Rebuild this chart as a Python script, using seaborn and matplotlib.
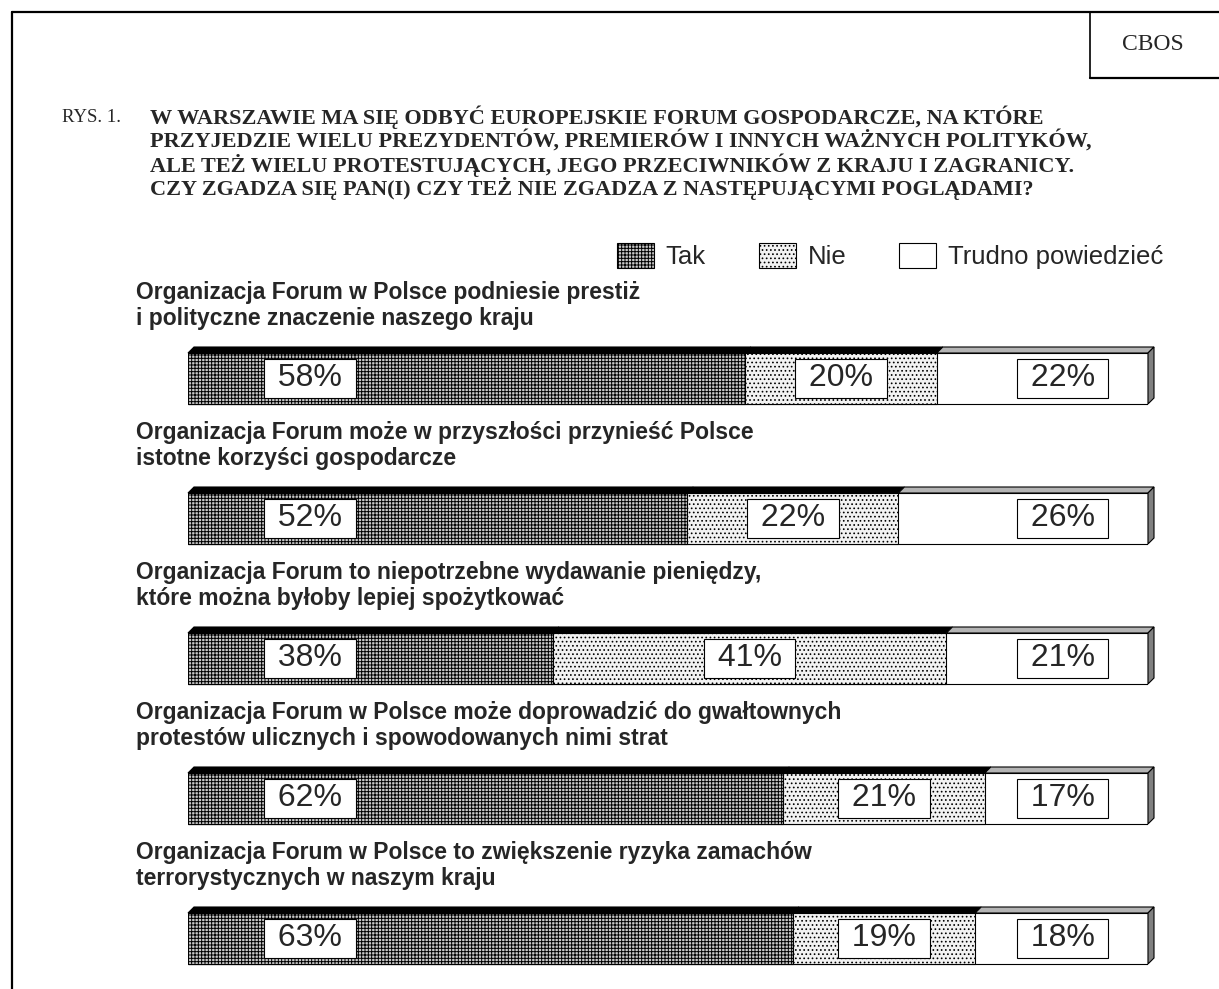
import numpy as np
import pandas as pd
import matplotlib
matplotlib.use("Agg")
import matplotlib.pyplot as plt
import seaborn as sns
from matplotlib.patches import Polygon, Patch
from matplotlib.lines import Line2D

# ---------------- data ----------------
statements = [
    "Organizacja Forum w Polsce podniesie prestiż\ni polityczne znaczenie naszego kraju",
    "Organizacja Forum może w przyszłości przynieść Polsce\nistotne korzyści gospodarcze",
    "Organizacja Forum to niepotrzebne wydawanie pieniędzy,\nktóre można byłoby lepiej spożytkować",
    "Organizacja Forum w Polsce może doprowadzić do gwałtownych\nprotestów ulicznych i spowodowanych nimi strat",
    "Organizacja Forum w Polsce to zwiększenie ryzyka zamachów\nterrorystycznych w naszym kraju",
]
tak = [58, 52, 38, 62, 63]
nie = [20, 22, 41, 21, 19]
trudno = [22, 26, 21, 17, 18]
series_names = ["Tak", "Nie", "Trudno powiedzieć"]

fig_label = "RYS. 1."
title_lines = [
    "W WARSZAWIE MA SIĘ ODBYĆ EUROPEJSKIE FORUM GOSPODARCZE, NA KTÓRE",
    "PRZYJEDZIE WIELU PREZYDENTÓW, PREMIERÓW I INNYCH WAŻNYCH POLITYKÓW,",
    "ALE TEŻ WIELU PROTESTUJĄCYCH, JEGO PRZECIWNIKÓW Z KRAJU I ZAGRANICY.",
    "CZY ZGADZA SIĘ PAN(I) CZY TEŻ NIE ZGADZA Z NASTĘPUJĄCYMI POGLĄDAMI?",
]
source = "CBOS"

# ---------------- style ----------------
sns.set_theme(style="white")
plt.rcParams["font.family"] = ["Liberation Sans", "DejaVu Sans"]
plt.rcParams["hatch.linewidth"] = 0.7

W, H = 1219, 989
fig = plt.figure(figsize=(W / 100, H / 100), dpi=100)
fig.patch.set_facecolor("white")


def fx(p):
    return p / W


def fy(p):
    return 1 - p / H


# frame lines
fig.add_artist(Line2D([fx(12), fx(12)], [fy(12), fy(H)], color="black", lw=1.6))
fig.add_artist(Line2D([fx(12), 1], [fy(12), fy(12)], color="black", lw=1.6))
fig.add_artist(Line2D([fx(1090), fx(1090)], [fy(12), fy(78)], color="black", lw=1.2))
fig.add_artist(Line2D([fx(1090), 1], [fy(78), fy(78)], color="black", lw=1.6))
fig.text(fx(1153), fy(44), source, family="Liberation Serif", fontsize=17,
         ha="center", va="center")

# title
title_y = [117, 141, 165, 189]
fig.text(fx(62), fy(title_y[0]), fig_label, family="Liberation Serif", fontsize=13.5,
         ha="left", va="center")
for ty, line in zip(title_y, title_lines):
    fig.text(fx(150), fy(ty), line, family="Liberation Serif", fontsize=16,
             fontweight="bold", ha="left", va="center")

# ---------------- bars ----------------
top_px, bot_px = 300, H
row_px = 140.0
c0 = 378.5
ax = fig.add_axes([fx(188), 1 - bot_px / H, fx(1148) - fx(188), (bot_px - top_px) / H])

cats = [f"s{i}" for i in range(len(tak))]
tak_a = np.array(tak)
nie_end = tak_a + np.array(nie)
tr_end = nie_end + np.array(trudno)

bar_w = 51 / row_px
styles = [
    dict(face="#c8c8c8", hatch="+++++"),   # Tak
    dict(face="#f2f2f2", hatch="...."),    # Nie
    dict(face="white", hatch=None),        # Trudno
]

layers = [(tr_end, styles[2]), (nie_end, styles[1]), (tak_a, styles[0])]
for ends, st in layers:
    n0 = len(ax.patches)
    sns.barplot(x=list(ends), y=cats, orient="h", width=bar_w, ax=ax,
                color="white", saturation=1, edgecolor="black", linewidth=0.8)
    for p in ax.patches[n0:]:
        p.set_facecolor(st["face"])
        p.set_edgecolor("black")
        if st["hatch"]:
            p.set_hatch(st["hatch"])

ax.set_xlim(0, 100)
ax.set_ylim((bot_px - c0) / row_px, (top_px - c0) / row_px)
ax.axis("off")

# 3D faces
depth_x = 6 / 9.6
depth_y = 6 / row_px
starts = [np.zeros(len(tak)), tak_a, nie_end]
ends_all = [tak_a, nie_end, tr_end]
top_cols = ["black", "black", "#b4b4b4"]
for i in range(len(tak)):
    yt = i - bar_w / 2
    yb = i + bar_w / 2
    for s, e, col in zip(starts, ends_all, top_cols):
        x0, x1 = s[i], e[i]
        poly = Polygon([(x0, yt), (x1, yt), (x1 + depth_x, yt - depth_y),
                        (x0 + depth_x, yt - depth_y)], closed=True,
                       facecolor=col, edgecolor="black", lw=0.8, clip_on=False)
        ax.add_patch(poly)
    xr = tr_end[i]
    side = Polygon([(xr, yt), (xr + depth_x, yt - depth_y), (xr + depth_x, yb - depth_y),
                    (xr, yb)], closed=True, facecolor="#808080", edgecolor="black",
                   lw=0.8, clip_on=False)
    ax.add_patch(side)

    # value labels
    box = dict(boxstyle="square,pad=0.15", fc="white", ec="black", lw=0.8)
    ax.text(12.7, i, f" {tak[i]}% ", ha="center", va="center", fontsize=23, bbox=box)
    ax.text(tak[i] + nie[i] / 2, i, f" {nie[i]}% ", ha="center", va="center",
            fontsize=23, bbox=box)
    ax.text(91.1, i, f" {trudno[i]}% ", ha="center", va="center", fontsize=23, bbox=box)

    # statement labels
    l1, l2 = statements[i].split("\n")
    cy = c0 + row_px * i
    fig.text(fx(136), fy(cy - 86.5), l1, fontsize=16.5, fontweight="bold", va="center")
    fig.text(fx(136), fy(cy - 60.5), l2, fontsize=16.5, fontweight="bold", va="center")

# legend
handles = [
    Patch(facecolor=styles[0]["face"], edgecolor="black", hatch=styles[0]["hatch"], lw=0.8),
    Patch(facecolor=styles[1]["face"], edgecolor="black", hatch=styles[1]["hatch"], lw=0.8),
    Patch(facecolor="white", edgecolor="black", lw=0.8),
]
fig.legend(handles, series_names, ncol=3, loc="center right",
           bbox_to_anchor=(fx(1163), fy(256)), frameon=False, fontsize=18.5,
           handlelength=1.45, handleheight=1.15, handletextpad=0.45,
           columnspacing=2.05, borderaxespad=0, borderpad=0)

fig.savefig("out.png", dpi=100, facecolor="white")
